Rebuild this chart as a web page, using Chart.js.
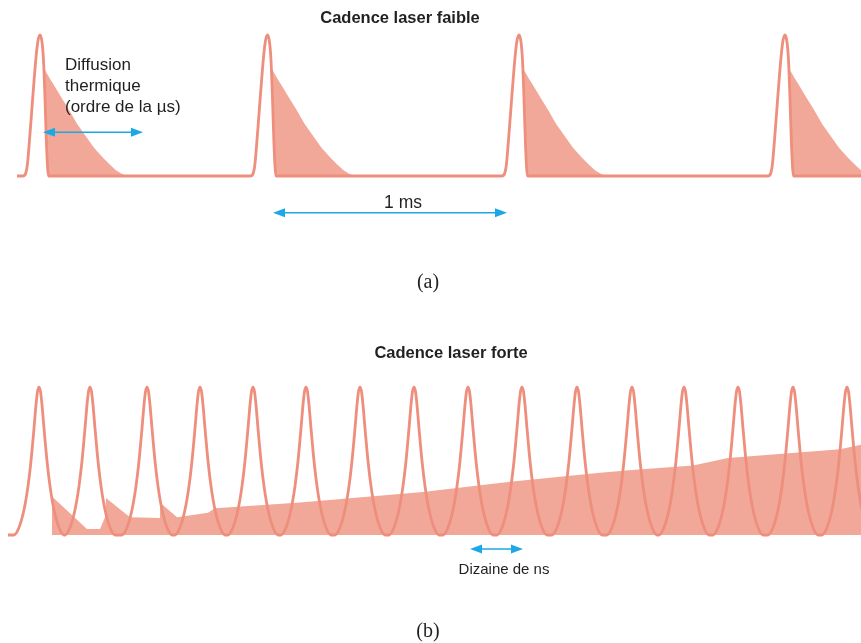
<!DOCTYPE html>
<html>
<head>
<meta charset="utf-8">
<script src="https://cdn.jsdelivr.net/npm/chart.js@4.4.0/dist/chart.umd.min.js"></script>
<style>
    html, body { margin: 0; padding: 0; background: #fff; }
    #wrap { position: relative; width: 861px; height: 643px; overflow: hidden; }
    canvas { position: absolute; left: 0; }
</style>
</head>
<body>
<div id="wrap">
    <canvas id="chart-a" width="861" height="320" style="top:0"></canvas>
    <canvas id="chart-b" width="861" height="323" style="top:320px"></canvas>
</div>
<script>
// (a) cadence faible : une impulsion, la chaleur diffuse puis retombe a zero
const pulseOffsetsA = [-17, -13, -10, -7, -4, -2, 0, 2, 3.5, 5, 6.5, 8.5]
const pulseLevelsA = [0, 0.06, 0.3, 0.58, 0.84, 0.96, 1, 0.95, 0.82, 0.55, 0.22, 0]
const pulseCentersA = [40, 267.5, 519, 785]
const heatOffsetsA = [3, 5, 10, 16, 22, 29, 37, 46, 54, 63, 70, 76, 82, 88]
const heatLevelsA = [0.77, 0.75, 0.69, 0.62, 0.55, 0.47, 0.37, 0.28, 0.2, 0.13, 0.08, 0.04, 0.015, 0]

// (b) cadence forte : la chaleur n'a pas le temps de partir, elle s'accumule
const pulseOffsetsB = [-25, -20, -15, -11, -8, -5, -3, -1.5, 0, 1.5, 3, 5, 8, 11, 15, 20, 25]
const pulseLevelsB = [0, 0.05, 0.17, 0.33, 0.5, 0.72, 0.88, 0.97, 1, 0.97, 0.88, 0.72, 0.5, 0.33, 0.17, 0.05, 0]
const pulseCentersB = [39, 90, 147, 200, 253, 306, 360, 414, 468, 522, 577, 632, 684, 738, 793, 847]
const heatXB = [52, 52, 87, 100, 105, 106, 130, 160, 160, 177, 208, 215, 300, 423, 510, 600, 632, 693, 728, 840, 861]
const heatLevelsB = [0, 0.26, 0.04, 0.04, 0.12, 0.25, 0.12, 0.115, 0.22, 0.12, 0.15, 0.18, 0.22, 0.29, 0.36, 0.42, 0.44, 0.47, 0.52, 0.58, 0.61]

const LINE = 'rgb(238,142,125)'
const FILL = 'rgb(242,168,153)'
const ARROW = '#1ba8e4'
const INK = '#231f20'
const SANS = '"Liberation Sans", Arial, sans-serif'
const SERIF = '"Liberation Serif", "DejaVu Serif", serif'

function pulseTrain(centers, offsets, levels, start, end) {
    let pts = [{ x: start, y: 0 }]
    centers.forEach((c) => {
        offsets.forEach((d, i) => pts.push({ x: c + d, y: levels[i] }))
    })
    if (end > pts[pts.length - 1].x) pts.push({ x: end, y: 0 })
    return pts
}

// each decay starts from the floor, so the regions join along the baseline
function heatRegions(centers, offsets, levels) {
    let pts = []
    centers.forEach((c) => {
        pts.push({ x: c + offsets[0], y: 0 })
        offsets.forEach((d, i) => pts.push({ x: c + d, y: levels[i] }))
    })
    return pts
}

const notesPlugin = {
    id: 'notes',
    afterDatasetsDraw(chart, args, opts) {
        const { ctx } = chart
        const sx = chart.scales.x
        const sy = chart.scales.y
        ctx.save()

        ;(opts.arrows || []).forEach((a) => {
            const x1 = sx.getPixelForValue(a.from)
            const x2 = sx.getPixelForValue(a.to)
            const y = sy.getPixelForValue(a.y)
            ctx.strokeStyle = ARROW
            ctx.fillStyle = ARROW
            ctx.lineWidth = 1.5
            ctx.beginPath()
            ctx.moveTo(x1 + 6, y)
            ctx.lineTo(x2 - 6, y)
            ctx.stroke()
            ;[[x1, 1], [x2, -1]].forEach(([tip, dir]) => {
                ctx.beginPath()
                ctx.moveTo(tip, y)
                ctx.lineTo(tip + dir * 12, y - 4.5)
                ctx.lineTo(tip + dir * 12, y + 4.5)
                ctx.closePath()
                ctx.fill()
            })
        })

        ;(opts.labels || []).forEach((l) => {
            ctx.font = l.font
            ctx.fillStyle = INK
            ctx.textAlign = l.align || 'center'
            ctx.textBaseline = 'middle'
            ctx.fillText(l.text, sx.getPixelForValue(l.x), sy.getPixelForValue(l.y))
        })

        ctx.restore()
    },
}

function makeChart(id, lineData, heatData, heatFill, yMin, yMax, notes) {
    return new Chart(document.getElementById(id), {
        type: 'line',
        data: {
            datasets: [
                {
                    data: lineData,
                    borderColor: LINE,
                    borderWidth: 2.8,
                    pointRadius: 0,
                    cubicInterpolationMode: 'monotone',
                    fill: false,
                },
                {
                    data: heatData,
                    borderWidth: 0,
                    borderColor: FILL,
                    backgroundColor: FILL,
                    pointRadius: 0,
                    tension: 0,
                    fill: heatFill,
                },
            ],
        },
        options: {
            responsive: false,
            animation: false,
            events: [],
            layout: { padding: 0 },
            scales: {
                x: { type: 'linear', min: 0, max: 861, display: false },
                y: { type: 'linear', min: yMin, max: yMax, display: false },
            },
            plugins: {
                legend: { display: false },
                tooltip: { enabled: false },
                notes,
            },
        },
        plugins: [notesPlugin],
    })
}

makeChart(
    'chart-a',
    pulseTrain(pulseCentersA, pulseOffsetsA, pulseLevelsA, 17, 861),
    heatRegions(pulseCentersA, heatOffsetsA, heatLevelsA),
    // fill down to the pulse line: the decay hangs off the falling edge
    { target: 0, above: FILL, below: 'rgba(0,0,0,0)' },
    -1.021, 1.248,
    {
        arrows: [
            { from: 43, to: 143, y: 0.31 },
            { from: 273, to: 507, y: -0.26 },
        ],
        labels: [
            { text: 'Cadence laser faible', x: 400, y: 1.12, font: `bold 16.5px ${SANS}` },
            { text: 'Diffusion', x: 65, y: 0.787, align: 'left', font: `17px ${SANS}` },
            { text: 'thermique', x: 65, y: 0.638, align: 'left', font: `17px ${SANS}` },
            { text: '(ordre de la µs)', x: 65, y: 0.489, align: 'left', font: `17px ${SANS}` },
            { text: '1 ms', x: 403, y: -0.19, font: `17.5px ${SANS}` },
            { text: '(a)', x: 428, y: -0.76, font: `20px ${SERIF}` },
        ],
    },
)

makeChart(
    'chart-b',
    pulseTrain(pulseCentersB, pulseOffsetsB, pulseLevelsB, 8, 861),
    heatXB.map((x, i) => ({ x, y: heatLevelsB[i] })),
    'origin',
    -0.730, 1.453,
    {
        arrows: [
            { from: 470, to: 523, y: -0.095 },
        ],
        labels: [
            { text: 'Cadence laser forte', x: 451, y: 1.23, font: `bold 16.5px ${SANS}` },
            { text: 'Dizaine de ns', x: 504, y: -0.236, font: `15px ${SANS}` },
            { text: '(b)', x: 428, y: -0.655, font: `20px ${SERIF}` },
        ],
    },
)
</script>
</body>
</html>
